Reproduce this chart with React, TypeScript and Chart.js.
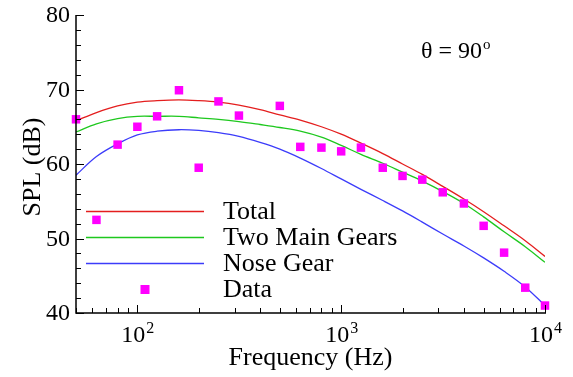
import React, { useEffect, useRef } from 'react';
import { Chart, registerables } from 'chart.js';

Chart.register(...registerables);

// ---- data ----
const freqBands = [50, 63, 80, 100, 125, 160, 200, 250, 315, 400, 500, 630, 800, 1000, 1250, 1600, 2000, 2500, 3150, 4000, 5000, 6300, 8000, 10000];
const totalSPL = [65.8, 66.9, 67.8, 68.3, 68.5, 68.6, 68.5, 68.3, 67.9, 67.3, 66.6, 65.9, 65.0, 64.0, 62.8, 61.4, 60.0, 58.6, 57.0, 55.3, 53.6, 51.7, 49.7, 47.6];
const mainGearSPL = [64.3, 65.4, 66.1, 66.4, 66.4, 66.4, 66.2, 66.0, 65.7, 65.3, 64.9, 64.4, 63.6, 62.5, 61.3, 60.1, 58.9, 57.7, 56.3, 54.7, 52.9, 50.9, 48.9, 46.8];
const noseGearSPL = [58.5, 61.0, 62.7, 63.9, 64.4, 64.6, 64.5, 64.2, 63.7, 62.9, 62.0, 60.8, 59.4, 58.0, 56.6, 55.1, 53.7, 52.2, 50.6, 49.0, 47.4, 45.6, 43.5, 41.0];
const dataFreq = [50, 63, 80, 100, 125, 160, 200, 250, 315, 500, 630, 800, 1000, 1250, 1600, 2000, 2500, 3150, 4000, 5000, 6300, 8000, 10000];
const dataSPL = [66.0, 52.5, 62.6, 65.0, 66.4, 69.9, 59.5, 68.4, 66.5, 67.8, 62.3, 62.2, 61.7, 62.2, 59.5, 58.4, 57.9, 56.2, 54.7, 51.7, 48.1, 43.4, 41.0];
const seriesLabels = ['Total', 'Two Main Gears', 'Nose Gear', 'Data'];
const xDecades = [100, 1000, 10000];
const xExponents = ['2', '3', '4'];
const yMajorTicks = [40, 50, 60, 70, 80];
const annotationText = 'θ = 90';
const annotationSup = 'o';
const xTitle = 'Frequency (Hz)';
const yTitle = 'SPL (dB)';

const FONT = '"Liberation Serif", "Times New Roman", serif';
const COLORS = ['rgb(228,30,30)', 'rgb(30,200,30)', 'rgb(60,60,250)', '#ff00ff'];

const axesPlugin = {
  id: 'tecplotAxes',
  afterDraw(chart: any) {
    const { ctx, chartArea: a, scales } = chart;
    const x = scales.x;
    const y = scales.y;
    ctx.save();
    ctx.strokeStyle = '#000';
    ctx.fillStyle = '#000';
    // axis lines
    ctx.lineWidth = 1.5;
    ctx.beginPath();
    ctx.moveTo(a.left, a.top);
    ctx.lineTo(a.left, a.bottom);
    ctx.lineTo(a.right + 1, a.bottom);
    ctx.stroke();

    // y ticks (inward)
    ctx.lineWidth = 1;
    for (let v = 40; v <= 80; v += 2) {
      const py = Math.round(y.getPixelForValue(v)) + 0.5;
      const major = v % 10 === 0;
      ctx.beginPath();
      ctx.moveTo(a.left, py);
      ctx.lineTo(a.left + (major ? 8 : 5), py);
      ctx.stroke();
    }
    ctx.font = `24px ${FONT}`;
    ctx.textAlign = 'right';
    ctx.textBaseline = 'middle';
    yMajorTicks.forEach((v) => {
      ctx.fillText(String(v), a.left - 6, y.getPixelForValue(v) + 1);
    });

    // x ticks (inward)
    [10, 100, 1000].forEach((d) => {
      for (let m = 1; m <= 9; m++) {
        const f = m * d;
        if (f < 50 || f > 10000) continue;
        const px = Math.round(x.getPixelForValue(f)) + 0.5;
        ctx.beginPath();
        ctx.moveTo(px, a.bottom);
        ctx.lineTo(px, a.bottom - (m === 1 ? 8 : 5));
        ctx.stroke();
      }
    });
    const px10 = x.getPixelForValue(10000);
    ctx.beginPath();
    ctx.moveTo(Math.round(px10) + 0.5, a.bottom);
    ctx.lineTo(Math.round(px10) + 0.5, a.bottom - 8);
    ctx.stroke();

    // x tick labels 10^n
    ctx.textAlign = 'left';
    ctx.textBaseline = 'alphabetic';
    xDecades.forEach((f, i) => {
      const px = x.getPixelForValue(f);
      ctx.font = `24px ${FONT}`;
      const wb = ctx.measureText('10').width;
      ctx.font = `16px ${FONT}`;
      const ws = ctx.measureText(xExponents[i]).width;
      const start = px - (wb + ws) / 2;
      ctx.font = `24px ${FONT}`;
      ctx.fillText('10', start, a.bottom + 29);
      ctx.font = `16px ${FONT}`;
      ctx.fillText(xExponents[i], start + wb + 1, a.bottom + 20);
    });

    // axis titles
    ctx.font = `26px ${FONT}`;
    ctx.textAlign = 'center';
    ctx.fillText(xTitle, (a.left + a.right) / 2, a.bottom + 52);
    ctx.save();
    ctx.translate(40, (a.top + a.bottom) / 2 + 3);
    ctx.rotate(-Math.PI / 2);
    ctx.fillText(yTitle, 0, 0);
    ctx.restore();

    // annotation
    ctx.textAlign = 'left';
    ctx.font = `24px ${FONT}`;
    ctx.fillText(annotationText, 421, 58);
    const wt = ctx.measureText(annotationText).width;
    ctx.font = `15px ${FONT}`;
    ctx.fillText(annotationSup, 421 + wt + 1, 49);

    // legend
    const ds = chart.data.datasets;
    const rowY = [211, 237, 263, 289];
    ctx.font = `26px ${FONT}`;
    ctx.textBaseline = 'alphabetic';
    ds.forEach((d: any, i: number) => {
      const ry = rowY[i];
      if (d.showLine) {
        ctx.strokeStyle = d.borderColor;
        ctx.lineWidth = 1.3;
        ctx.beginPath();
        ctx.moveTo(86, ry + 0.5);
        ctx.lineTo(204, ry + 0.5);
        ctx.stroke();
      } else {
        ctx.fillStyle = d.backgroundColor;
        ctx.fillRect(145 - 4.5, ry - 4, 9, 9);
      }
      ctx.fillStyle = '#000';
      ctx.fillText(d.label, 223, ry + 8);
    });
    ctx.restore();
  },
};

export default function App() {
  const ref = useRef<HTMLCanvasElement | null>(null);
  useEffect(() => {
    if (!ref.current) return;
    const lineSet = (vals: number[], i: number) => ({
      label: seriesLabels[i],
      data: freqBands.map((f, k) => ({ x: f, y: vals[k] })),
      showLine: true,
      borderColor: COLORS[i],
      backgroundColor: COLORS[i],
      borderWidth: 1.3,
      pointRadius: 0,
      tension: 0.35,
      order: 1,
    });
    const chart = new Chart(ref.current, {
      type: 'scatter',
      data: {
        datasets: [
          lineSet(totalSPL, 0),
          lineSet(mainGearSPL, 1),
          lineSet(noseGearSPL, 2),
          {
            label: seriesLabels[3],
            data: dataFreq.map((f, k) => ({ x: f, y: dataSPL[k] })),
            showLine: false,
            pointStyle: 'rect',
            pointRadius: 6,
            borderWidth: 0,
            backgroundColor: COLORS[3],
            borderColor: COLORS[3],
            clip: false as any,
            order: 0,
          },
        ],
      },
      options: {
        responsive: false,
        animation: false,
        devicePixelRatio: 1,
        layout: { padding: { left: 76, right: 28, top: 15, bottom: 64 } },
        scales: {
          x: { type: 'logarithmic', min: 50, max: 10000, display: false },
          y: { type: 'linear', min: 40, max: 80, display: false },
        },
        plugins: { legend: { display: false }, tooltip: { enabled: false } },
      },
      plugins: [axesPlugin],
    });
    return () => chart.destroy();
  }, []);
  return (
    <div style={{ position: 'fixed', left: 0, top: 0, width: 573, height: 377, background: '#fff' }}>
      <canvas ref={ref} width={573} height={377} />
    </div>
  );
}
